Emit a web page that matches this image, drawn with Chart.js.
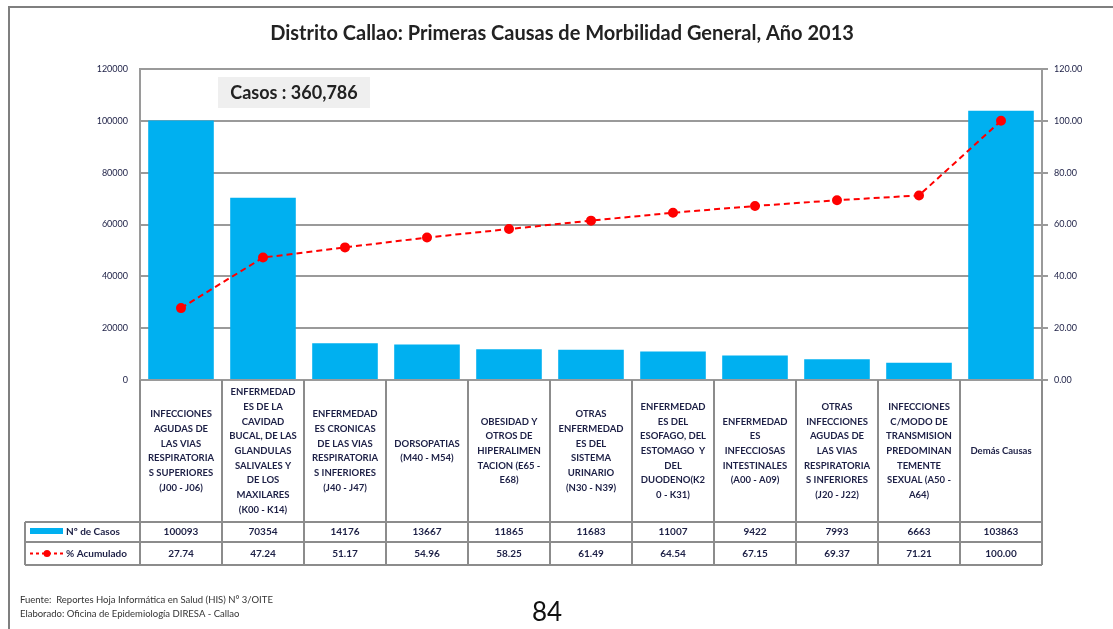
<!DOCTYPE html>
<html>
<head>
<meta charset="utf-8">
<script src="https://cdn.jsdelivr.net/npm/chart.js@4.4.1/dist/chart.umd.min.js"></script>
<style>
  html, body { margin: 0; padding: 0; background: #fff; }
  #wrap { width: 1113px; height: 629px; position: relative; }
</style>
</head>
<body>
<div id="wrap"><canvas id="chart" width="1113" height="629"></canvas></div>
<script>
// Categories (multi-line, as in the table under the chart)
const categorias = [
  ['INFECCIONES', 'AGUDAS DE', 'LAS VIAS', 'RESPIRATORIA', 'S SUPERIORES', '(J00 - J06)'],
  ['ENFERMEDAD', 'ES DE LA', 'CAVIDAD', 'BUCAL, DE LAS', 'GLANDULAS', 'SALIVALES Y', 'DE LOS', 'MAXILARES', '(K00 - K14)'],
  ['ENFERMEDAD', 'ES CRONICAS', 'DE LAS VIAS', 'RESPIRATORIA', 'S INFERIORES', '(J40 - J47)'],
  ['DORSOPATIAS', '(M40 - M54)'],
  ['OBESIDAD Y', 'OTROS DE', 'HIPERALIMEN', 'TACION (E65 -', 'E68)'],
  ['OTRAS', 'ENFERMEDAD', 'ES DEL', 'SISTEMA', 'URINARIO', '(N30 - N39)'],
  ['ENFERMEDAD', 'ES DEL', 'ESOFAGO, DEL', 'ESTOMAGO  Y', 'DEL', 'DUODENO(K2', '0 - K31)'],
  ['ENFERMEDAD', 'ES', 'INFECCIOSAS', 'INTESTINALES', '(A00 - A09)'],
  ['OTRAS', 'INFECCIONES', 'AGUDAS DE', 'LAS VIAS', 'RESPIRATORIA', 'S INFERIORES', '(J20 - J22)'],
  ['INFECCIONES', 'C/MODO DE', 'TRANSMISION', 'PREDOMINAN', 'TEMENTE', 'SEXUAL (A50 -', 'A64)'],
  'Demás Causas'
];

// Series values
const casos = [100093, 70354, 14176, 13667, 11865, 11683, 11007, 9422, 7993, 6663, 103863];
const acumulado = [27.74, 47.24, 51.17, 54.96, 58.25, 61.49, 64.54, 67.15, 69.37, 71.21, 100.00];

// Axis ranges
const maxCasos = 120000;
const pasoCasos = 20000;
const maxPct = 120;
const pasoPct = 20;

const tituloTexto = 'Distrito Callao: Primeras Causas de Morbilidad General, Año 2013';
const fuenteTexto = ['Fuente:  Reportes Hoja Informática en Salud (HIS) N° 3/OITE',
                     'Elaborado: Oficina de Epidemiología DIRESA - Callao'];
const paginaTexto = '84';

const FONT = 'Lato, "Open Sans", sans-serif';
const GRIS = '#9a9a9a';
const TEXTO = '#1c1f45';

// Table + decorations drawn around the chart
const tablaPlugin = {
  id: 'tabla',
  beforeDraw(chart) {
    const ctx = chart.ctx;
    ctx.save();
    ctx.fillStyle = '#fff';
    ctx.fillRect(0, 0, chart.width, chart.height);
    // outer frame of the figure
    ctx.strokeStyle = '#7f7f7f';
    ctx.lineWidth = 2;
    ctx.strokeRect(9, 7, chart.width + 20, chart.height + 20);
    ctx.restore();
  },
  afterDraw(chart) {
    const ctx = chart.ctx;
    const x = chart.scales.x;
    const area = chart.chartArea;
    const n = casos.length;
    const fila1 = x.bottom, fila2 = x.bottom + 20, fila3 = x.bottom + 43;
    const tablaIzq = 25;

    // column boundaries from the category scale
    const bordes = [area.left];
    for (let i = 1; i < n; i++) {
      bordes.push((x.getPixelForValue(i - 1) + x.getPixelForValue(i)) / 2);
    }
    bordes.push(area.right);

    ctx.save();
    ctx.strokeStyle = '#8c8c8c';
    ctx.lineWidth = 2;
    bordes.forEach(b => {
      ctx.beginPath();
      ctx.moveTo(b, area.bottom);
      ctx.lineTo(b, fila3);
      ctx.stroke();
    });
    [fila1, fila2, fila3].forEach(y => {
      ctx.beginPath();
      ctx.moveTo(tablaIzq, y);
      ctx.lineTo(area.right, y);
      ctx.stroke();
    });
    ctx.beginPath();
    ctx.moveTo(tablaIzq, fila1);
    ctx.lineTo(tablaIzq, fila3);
    ctx.stroke();

    // values rows
    ctx.fillStyle = TEXTO;
    ctx.font = 'bold 10px ' + FONT;
    ctx.textAlign = 'center';
    ctx.textBaseline = 'middle';
    for (let i = 0; i < n; i++) {
      const cx = x.getPixelForValue(i);
      ctx.fillText(String(casos[i]), cx, (fila1 + fila2) / 2);
      ctx.fillText(acumulado[i].toFixed(2), cx, (fila2 + fila3) / 2);
    }

    // legend cells
    const barras = chart.data.datasets.find(d => d.type === 'bar');
    const linea = chart.data.datasets.find(d => d.type === 'line');
    ctx.fillStyle = barras.backgroundColor;
    ctx.fillRect(30, fila1 + 6, 33, 6);
    ctx.strokeStyle = linea.borderColor;
    ctx.lineWidth = 2;
    ctx.setLineDash([3, 3]);
    ctx.beginPath();
    ctx.moveTo(30, (fila2 + fila3) / 2);
    ctx.lineTo(63, (fila2 + fila3) / 2);
    ctx.stroke();
    ctx.setLineDash([]);
    ctx.fillStyle = linea.pointBackgroundColor;
    ctx.beginPath();
    ctx.arc(47, (fila2 + fila3) / 2, 3.5, 0, Math.PI * 2);
    ctx.fill();
    ctx.fillStyle = TEXTO;
    ctx.textAlign = 'left';
    ctx.font = 'bold 10px ' + FONT;
    ctx.fillText(barras.label, 66, (fila1 + fila2) / 2);
    ctx.fillText(linea.label, 66, (fila2 + fila3) / 2);

    // "Casos" box
    const total = casos.reduce((a, b) => a + b, 0);
    ctx.fillStyle = '#efefef';
    ctx.fillRect(218, 77, 152, 31);
    ctx.fillStyle = '#222';
    ctx.font = 'bold 18px ' + FONT;
    ctx.textAlign = 'center';
    ctx.fillText('Casos : ' + total.toLocaleString('en-US'), 294, 93);

    // title
    ctx.font = 'bold 20px ' + FONT;
    ctx.fillText(tituloTexto, 562, 34);

    // footer
    ctx.font = '9.5px ' + FONT;
    ctx.textAlign = 'left';
    ctx.fillStyle = '#333';
    ctx.fillText(fuenteTexto[0], 20, 600);
    ctx.fillText(fuenteTexto[1], 20, 614);
    ctx.font = '26px ' + FONT;
    ctx.fillStyle = '#111';
    ctx.textAlign = 'center';
    ctx.fillText(paginaTexto, 547, 613);
    ctx.restore();
  }
};

const chart = new Chart(document.getElementById('chart'), {
  data: {
    labels: categorias,
    datasets: [
      {
        type: 'line',
        label: '% Acumulado',
        data: acumulado,
        yAxisID: 'y1',
        borderColor: '#ff0000',
        backgroundColor: '#ff0000',
        pointBackgroundColor: '#ff0000',
        pointBorderColor: '#ff0000',
        borderWidth: 2,
        borderDash: [6, 4],
        pointRadius: 4,
        tension: 0,
        order: 0
      },
      {
        type: 'bar',
        label: 'Nº de Casos',
        data: casos,
        yAxisID: 'y',
        backgroundColor: '#00b0f0',
        barPercentage: 0.8,
        categoryPercentage: 1.0,
        order: 1
      }
    ]
  },
  plugins: [tablaPlugin],
  options: {
    responsive: false,
    animation: false,
    layout: { padding: { left: 20, right: 11, top: 69, bottom: 107 } },
    plugins: {
      legend: { display: false },
      title: { display: false },
      tooltip: { enabled: false }
    },
    scales: {
      x: {
        grid: { display: false },
        border: { display: true, color: GRIS, width: 2 },
        ticks: {
          color: TEXTO,
          font: { family: FONT, size: 9.5, weight: 'bold', lineHeight: 1.55 },
          maxRotation: 0,
          autoSkip: false,
          crossAlign: 'center',
          padding: 4
        },
        afterFit: s => { s.height = 142; }
      },
      y: {
        position: 'left',
        min: 0,
        max: maxCasos,
        ticks: {
          stepSize: pasoCasos,
          color: TEXTO,
          font: { family: FONT, size: 9 },
          padding: 12,
          callback: v => String(v)
        },
        grid: { color: GRIS, lineWidth: 2, drawTicks: false },
        border: { display: true, color: GRIS, width: 2 },
        afterFit: s => { s.width = 120; }
      },
      y1: {
        position: 'right',
        min: 0,
        max: maxPct,
        ticks: {
          stepSize: pasoPct,
          color: TEXTO,
          font: { family: FONT, size: 9 },
          padding: 6,
          callback: v => Number(v).toFixed(2)
        },
        grid: { drawOnChartArea: false, drawTicks: true, tickLength: 6, color: GRIS, lineWidth: 2 },
        border: { display: true, color: GRIS, width: 2 },
        afterFit: s => { s.width = 60; }
      }
    }
  }
});
</script>
</body>
</html>
